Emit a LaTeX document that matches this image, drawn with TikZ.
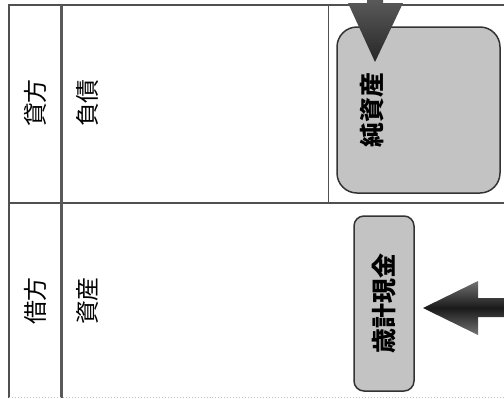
\documentclass[tikz,border=0pt]{standalone}
\usepackage{fontspec}
\newfontfamily\jpfont{Noto Sans CJK JP}
\usetikzlibrary{positioning,shapes,calc}
\definecolor{framegray}{RGB}{80,80,80}
\definecolor{boxgray}{RGB}{195,195,195}

\begin{document}
\begin{tikzpicture}[x=1bp, y=-1bp,
        cell/.style={rotate=90, font=\jpfont\fontsize{24}{24}\selectfont},
        boxlabel/.style={rotate=90, font=\jpfont\bfseries\fontsize{25}{25}\selectfont},
        roundbox/.style={draw=black!80, line width=1.5bp, fill=boxgray}]

        \useasboundingbox (0,0) rectangle (504,398);

        % Draw frame
        \draw[line width=2bp, framegray] (9,398) -- (9,5) -- (504,5);
        \draw[line width=2bp, framegray] (9,203) -- (504,203);
        \draw[line width=3bp, black!65] (61,5) -- (61,398);
        \draw[line width=1bp, framegray] (328,5) -- (328,203);
        \draw[line width=1bp, black!25, dotted] (9,397) -- (504,397);

        % Credit side
        \node[cell] (credit) at (35,103) {貸方};
        \node[cell] (liab) at (87,103) {負債};

        % Debit side
        \node[cell] (debit) at (35,301) {借方};
        \node[cell] (asset) at (87,301) {資産};

        % Net assets
        \node[roundbox, rounded corners=20bp, minimum width=163bp, minimum height=166bp] (netbox) at (418.5,110) {};
        \node[boxlabel] (netlabel) at (372,110) {純資産};

        % Cash
        \node[roundbox, rounded corners=10bp, rotate=90, minimum width=175bp, minimum height=60bp, inner sep=0pt] (cash) at (384,303.5) {};
        \node[boxlabel] (cashlabel) at (cash.center) {歳計現金};

        % Arrow into net assets
        \coordinate (downtip) at (375,62);
        \shade[top color=black!65, bottom color=black!85] (367,0) -- (383,0) -- (383,3) -- (403,3) -- (downtip) -- (348,3) -- (367,3) -- cycle;

        % Arrow into cash
        \coordinate (lefttip) at (423,308);
        \shade[shading=axis, top color=black!55, bottom color=black!55, middle color=black!90] (504,298) -- (478,298) -- (478,281) -- (lefttip) -- (478,335) -- (478,317) -- (504,317) -- cycle;
    \end{tikzpicture}
\end{document}
